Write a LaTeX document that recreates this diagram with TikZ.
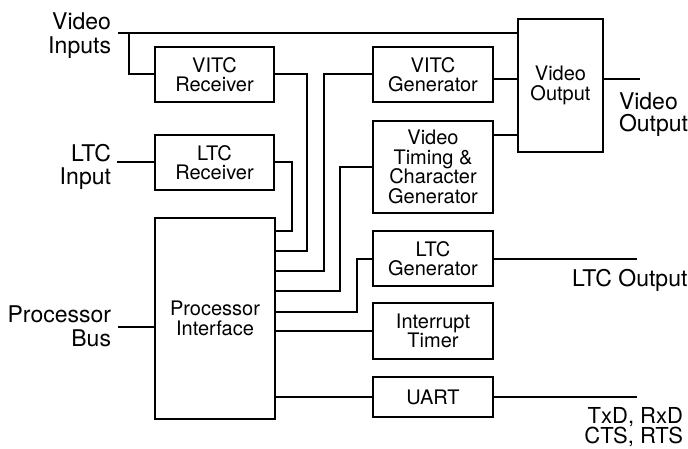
\documentclass[tikz,border=0pt]{standalone}
\usepackage{fontspec}
\setmainfont{TeX Gyre Heros}
\begin{document}
\begin{tikzpicture}[x=1pt,y=-1pt, line width=2pt,
  box/.style={draw, line width=2pt, align=center, inner sep=0pt, font=\fontsize{20}{19.5}\selectfont},
  lbl/.style={inner sep=0pt, font=\fontsize{23}{23.5}\selectfont}]
\useasboundingbox (0,0) rectangle (688,449);

% boxes
\node[box, minimum width=119pt, minimum height=55pt] (vitcr) at (214.5,74.5) {VITC\\Receiver};
\node[box, minimum width=119pt, minimum height=55pt] (ltcr) at (214.5,162.5) {LTC\\Receiver};
\node[box, minimum width=120pt, minimum height=201pt] (pi) at (215,318.5) {Processor\\Interface};
\node[box, minimum width=120pt, minimum height=55pt] (vitcg) at (433,74.5) {VITC\\Generator};
\node[box, minimum width=120pt, minimum height=92pt] (vtim) at (433,167) {Video\\Timing \&\\Character\\Generator};
\node[box, minimum width=120pt, minimum height=55pt] (ltcg) at (433,258.5) {LTC\\Generator};
\node[box, minimum width=120pt, minimum height=56pt] (itim) at (433,331) {Interrupt\\Timer};
\node[box, minimum width=120pt, minimum height=40pt] (uart) at (433,397) {UART};
\node[box, minimum width=85pt, minimum height=133pt] (vout) at (560.5,85.5) {Video\\Output};

% labels
\node[lbl, align=right, anchor=north east] (l1) at (112,12) {Video\\Inputs};
\node[lbl, align=right, anchor=north east] (l2) at (112,143) {LTC\\Input};
\node[lbl, align=right, anchor=north east] (l3) at (112,305) {Processor\\Bus};
\node[lbl, align=left, anchor=north west, font=\fontsize{23}{22}\selectfont] (l4) at (618,92) {Video\\Output};
\node[lbl, anchor=north west] (l5) at (571,268) {LTC Output};
\node[lbl, align=right, anchor=north east, font=\fontsize{22}{20}\selectfont] (l6) at (684,406) {TxD, RxD\\CTS, RTS};

% coordinates
\coordinate (vin) at (118,33);
\coordinate (vbr) at (129,33);
\coordinate (ltcin) at (117,162.5);
\coordinate (pbus) at (118,327);
\coordinate (c1) at (307,251);
\coordinate (c2) at (292,231);
\coordinate (c3) at (324,271);
\coordinate (c4) at (340,291);
\coordinate (c5) at (357,312);
\coordinate (g1) at ([yshift=-4.5pt]vitcg.east);
\coordinate (g2) at ([yshift=32pt]vtim.east);
\coordinate (g3) at ([yshift=6.5pt]vout.east);
\coordinate (vo) at (640,79);
\coordinate (lo) at (637,0);

% wires
\draw (vin) -- (vin -| vout.west);
\draw (vbr) |- (vitcr.west);
\draw (ltcin) -- (ltcr.west);
\draw (pbus) -- (pbus -| pi.west);
\draw (vitcr.east) -| (c1) -- (c1 -| pi.east);
\draw (ltcr.east) -| (c2) -- (c2 -| pi.east);
\draw (vitcg.west) -| (c3) -- (c3 -| pi.east);
\draw (vtim.west) -| (c4) -- (c4 -| pi.east);
\draw (ltcg.west) -| (c5) -- (c5 -| pi.east);
\draw (itim.west) -- (itim.west -| pi.east);
\draw (uart.west) -- (uart.west -| pi.east);
\draw (g1) -- (g1 -| vout.west);
\draw (g2) -- (g2 -| vout.west);
\draw (g3) -- (g3 -| vo);
\draw (ltcg.east) -- (ltcg.east -| lo);
\draw (uart.east) -- (uart.east -| lo);
\end{tikzpicture}
\end{document}
